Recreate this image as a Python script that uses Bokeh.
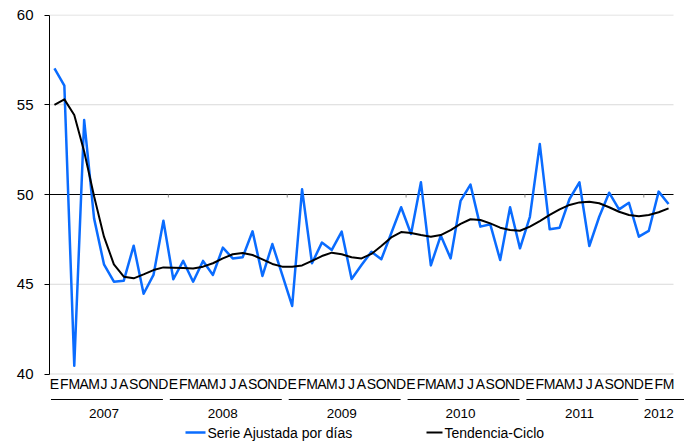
import numpy as np
from bokeh.plotting import figure
from bokeh.models import Range1d, FixedTicker
from bokeh.core.properties import value
from bokeh.embed import file_html
from bokeh.resources import INLINE

# ---------------- data ----------------
month_letters = ["E", "F", "M", "A", "M", "J", "J", "A", "S", "O", "N", "D"]
years = ["2007", "2008", "2009", "2010", "2011", "2012"]
months_in_year = [12, 12, 12, 12, 12, 3]

serie_ajustada = [
    57.03, 56.06, 40.46, 54.15, 48.67, 46.11, 45.14, 45.20, 47.15, 44.47, 45.52, 48.54,
    45.28, 46.30, 45.14, 46.30, 45.52, 47.04, 46.44, 46.50, 47.95, 45.46, 47.24, 45.52,
    43.79, 50.29, 46.17, 47.32, 46.91, 47.93, 45.29, 46.07, 46.81, 46.39, 47.84, 49.29,
    47.80, 50.68, 46.05, 47.71, 46.44, 49.64, 50.55, 48.21, 48.34, 46.35, 49.29, 47.00,
    48.76, 52.81, 48.06, 48.15, 49.75, 50.68, 47.13, 48.76, 50.10, 49.17, 49.54, 47.65,
    47.97, 50.16, 49.47,
]
tendencia_ciclo = [
    54.99, 55.30, 54.43, 52.40, 49.90, 47.65, 46.11, 45.42, 45.33, 45.55, 45.79, 45.94,
    45.92, 45.90, 45.88, 45.98, 46.17, 46.44, 46.67, 46.74, 46.63, 46.39, 46.13, 45.98,
    45.98, 46.05, 46.30, 46.57, 46.76, 46.67, 46.50, 46.44, 46.69, 47.13, 47.61, 47.91,
    47.86, 47.74, 47.65, 47.74, 48.02, 48.36, 48.62, 48.58, 48.39, 48.15, 48.02, 47.98,
    48.21, 48.52, 48.86, 49.17, 49.42, 49.56, 49.60, 49.51, 49.29, 49.04, 48.86, 48.79,
    48.86, 49.01, 49.23,
]
y_ticks = [40, 45, 50, 55, 60]
y_grid = [40, 45, 55, 60]
ref_level = 50

series_names = ["Serie Ajustada por días", "Tendencia-Ciclo"]
series_colors = ["#0A6CFF", "#000000"]

# ---------------- layout helpers (figure px == page px) ----------------
W, H = 684, 442
LEFT = 49          # frame left (x index -0.5)
TOP = 14           # frame top
PXU_X = 9.905      # px per month
PXU_Y = 17.95      # px per y unit
Y40 = 373.5        # y px of value 40
X0 = 49.0          # x px of index -0.5

def y_at(py):
    return 40 - (py - Y40) / PXU_Y

def x_at(px):
    return -0.5 + (px - X0) / PXU_X

n = len(serie_ajustada)
idx = np.arange(n)

x_start = -0.5
x_end = x_start + (W - LEFT) / PXU_X
y_end = y_at(TOP)
y_start = y_at(H)

p = figure(width=W, height=H, output_backend="svg", toolbar_location=None,
           x_range=Range1d(x_start, x_end), y_range=Range1d(y_start, y_end),
           min_border_left=LEFT, min_border_right=0, min_border_top=TOP,
           min_border_bottom=0)
p.outline_line_color = None
p.xaxis.visible = False
p.xgrid.visible = False
p.ygrid.visible = False

FONT = value("Liberation Sans")

ax = p.yaxis[0]
ax.ticker = FixedTicker(ticks=y_ticks)
ax.bounds = (40, 60)
ax.axis_line_color = "black"
ax.axis_line_width = 1
ax.major_tick_line_color = "black"
ax.major_tick_out = 5
ax.major_tick_in = 0
ax.minor_tick_line_color = None
ax.major_label_standoff = 11
ax.major_label_text_font = "Liberation Sans"
ax.major_label_text_font_size = "15px"
ax.major_label_text_color = "black"

# gridlines
x_lo, x_hi = -0.5, n - 0.5
p.segment(x0=[x_lo] * len(y_grid), x1=[x_hi] * len(y_grid), y0=y_grid, y1=y_grid,
          line_color="#d9d9d9", line_width=1)
# reference line at 50 (category axis crossing)
p.segment(x0=[x_lo], x1=[x_hi], y0=[ref_level], y1=[ref_level],
          line_color="black", line_width=1)

# year boundaries
starts = np.cumsum([0] + months_in_year[:-1])
bounds = [s - 0.5 for s in starts]
inner_bounds = bounds[1:]
p.segment(x0=inner_bounds, x1=inner_bounds, y0=[ref_level] * len(inner_bounds),
          y1=[ref_level - 3 / PXU_Y] * len(inner_bounds), line_color="#888888", line_width=1)

# series
p.line(idx, serie_ajustada, line_color=series_colors[0], line_width=2.5, line_join="round")
p.line(idx, tendencia_ciclo, line_color=series_colors[1], line_width=2, line_join="round")

# month letters
labels = [month_letters[i % 12] for i in range(n)]
p.text(x=list(idx), y=[y_at(383)] * n, text=labels, text_align="center",
       text_baseline="middle", text_font=FONT, text_font_size="14px", text_color="black")

# year lines and labels
yl_x0, yl_x1, lab_x = [], [], []
for s, m in zip(starts, months_in_year):
    b0 = s - 0.5
    b1 = s + m - 0.5
    yl_x0.append(b0 + 0.15)
    yl_x1.append(b1 - 0.55 if m == 12 else x_end)
    mid = s + (m - 1) / 2
    lab_x.append(mid - 0.5 if m == 12 else mid)
yy = y_at(399)
p.segment(x0=yl_x0, x1=yl_x1, y0=[yy] * len(yl_x0), y1=[yy] * len(yl_x0),
          line_color="black", line_width=1)
p.text(x=lab_x, y=[y_at(413)] * len(years), text=years, text_align="center",
       text_baseline="middle", text_font=FONT, text_font_size="13.5px", text_color="black")

# legend
ly = y_at(432)
p.segment(x0=[x_at(185)], x1=[x_at(205)], y0=[ly], y1=[ly], line_color=series_colors[0], line_width=2.5)
p.text(x=[x_at(207)], y=[ly], text=[series_names[0]], text_align="left", text_baseline="middle",
       text_font=FONT, text_font_size="14px", text_color="black")
p.segment(x0=[x_at(426)], x1=[x_at(442)], y0=[ly], y1=[ly], line_color=series_colors[1], line_width=2)
p.text(x=[x_at(444)], y=[ly], text=[series_names[1]], text_align="left", text_baseline="middle",
       text_font=FONT, text_font_size="14px", text_color="black")

open("out.html", "w").write(file_html(p, INLINE))
